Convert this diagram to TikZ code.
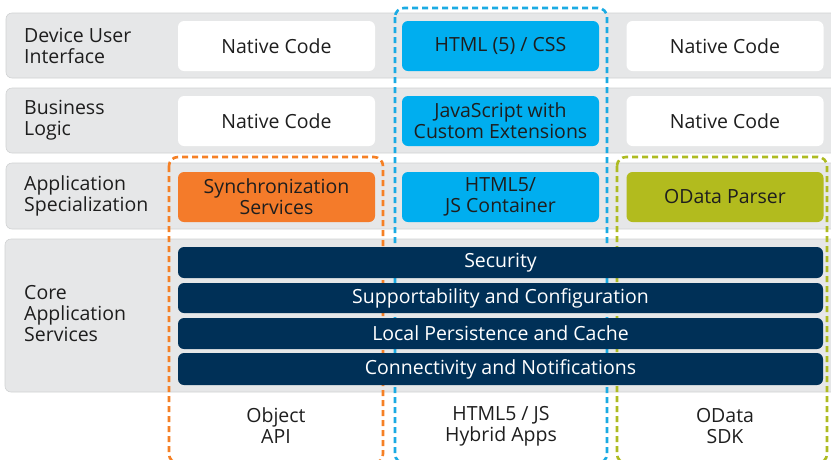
\documentclass[tikz,border=0pt]{standalone}
\usepackage{fontspec}
\setmainfont{Open Sans}
\definecolor{band}{HTML}{E6E7E8}
\definecolor{bandline}{HTML}{D0D2D3}
\definecolor{cyanbox}{HTML}{00AEEF}
\definecolor{orangebox}{HTML}{F47B2A}
\definecolor{greenbox}{HTML}{B2BB1E}
\definecolor{navy}{HTML}{003057}
\definecolor{txt}{HTML}{1E1E1E}
\definecolor{ofr}{HTML}{F58025}
\definecolor{bfr}{HTML}{1AABE3}
\definecolor{gfr}{HTML}{AEBB22}
\tikzset{
  bandbox/.style={fill=band, draw=bandline, line width=0.6pt, rounded corners=6pt},
  cell/.style={rounded corners=6pt, minimum width=197pt, minimum height=50pt, inner sep=0pt, align=center, text=txt, font=\fontsize{19.5}{21}\selectfont},
  wbox/.style={cell, fill=white},
  cbox/.style={cell, fill=cyanbox},
  obox/.style={cell, fill=orangebox},
  gbox/.style={cell, fill=greenbox},
  bar/.style={rounded corners=6pt, fill=navy, minimum width=645pt, inner sep=0pt, text=white, font=\fontsize{19.5}{21}\selectfont},
  rowlabel/.style={anchor=west, align=left, text=txt, font=\fontsize{19.5}{21}\selectfont, inner sep=0pt},
  botlabel/.style={align=center, text=txt, font=\fontsize{19.5}{21}\selectfont, inner sep=0pt},
  frame/.style={line width=2.6pt, dash pattern=on 6pt off 4pt, rounded corners=9pt}
}
\begin{document}
\begin{tikzpicture}[x=1pt,y=-1pt]
\useasboundingbox (0,0) rectangle (831,459);
\clip (0,0) rectangle (831,459);
% bands
\draw[bandbox] (6,13) rectangle (845,78);
\draw[bandbox] (6,88) rectangle (845,153);
\draw[bandbox] (6,163) rectangle (845,229);
\draw[bandbox] (5,239) rectangle (845,392);
% frames
\draw[frame, ofr] (169,157) rectangle (383,463);
\draw[frame, bfr] (395,8) rectangle (607,463);
\draw[frame, gfr] (617,157) rectangle (827,463);
% row labels
\node[rowlabel] (l1) at (24,45.5) {Device User\\Interface};
\node[rowlabel] (l2) at (24,120.5) {Business\\Logic};
\node[rowlabel] (l3) at (24,196) {Application\\Specialization};
\node[rowlabel] (l4) at (24,314) {Core\\Application\\Services};
% row 1
\node[wbox] (nc1) at (276.5,46) {Native Code};
\node[cbox] (html) at (500.5,46) {HTML (5) / CSS};
\node[wbox] (nc2) at (725,46) {Native Code};
% row 2
\node[wbox] (nc3) at (276.5,121) {Native Code};
\node[cbox] (js) at (500.5,121) {JavaScript with\\Custom Extensions};
\node[wbox] (nc4) at (725,121) {Native Code};
% row 3
\node[obox] (sync) at (276.5,197) {Synchronization\\Services};
\node[cbox] (cont) at (500.5,197) {HTML5/\\JS Container};
\node[gbox] (odp) at (725,197) {OData Parser};
% bars
\node[bar, minimum height=31pt] (sec) at (500.5,262.5) {Security};
\node[bar, minimum height=30pt] (sup) at (500.5,298) {Supportability and Configuration};
\node[bar, minimum height=31pt] (lpc) at (500.5,333.5) {Local Persistence and Cache};
\node[bar, minimum height=32pt] (con) at (500.5,369) {Connectivity and Notifications};
% bottom labels
\node[botlabel] (b1) at (276,426) {Object\\API};
\node[botlabel] (b2) at (501,426) {HTML5 / JS\\Hybrid Apps};
\node[botlabel] (b3) at (725,426) {OData\\SDK};
\end{tikzpicture}
\end{document}
